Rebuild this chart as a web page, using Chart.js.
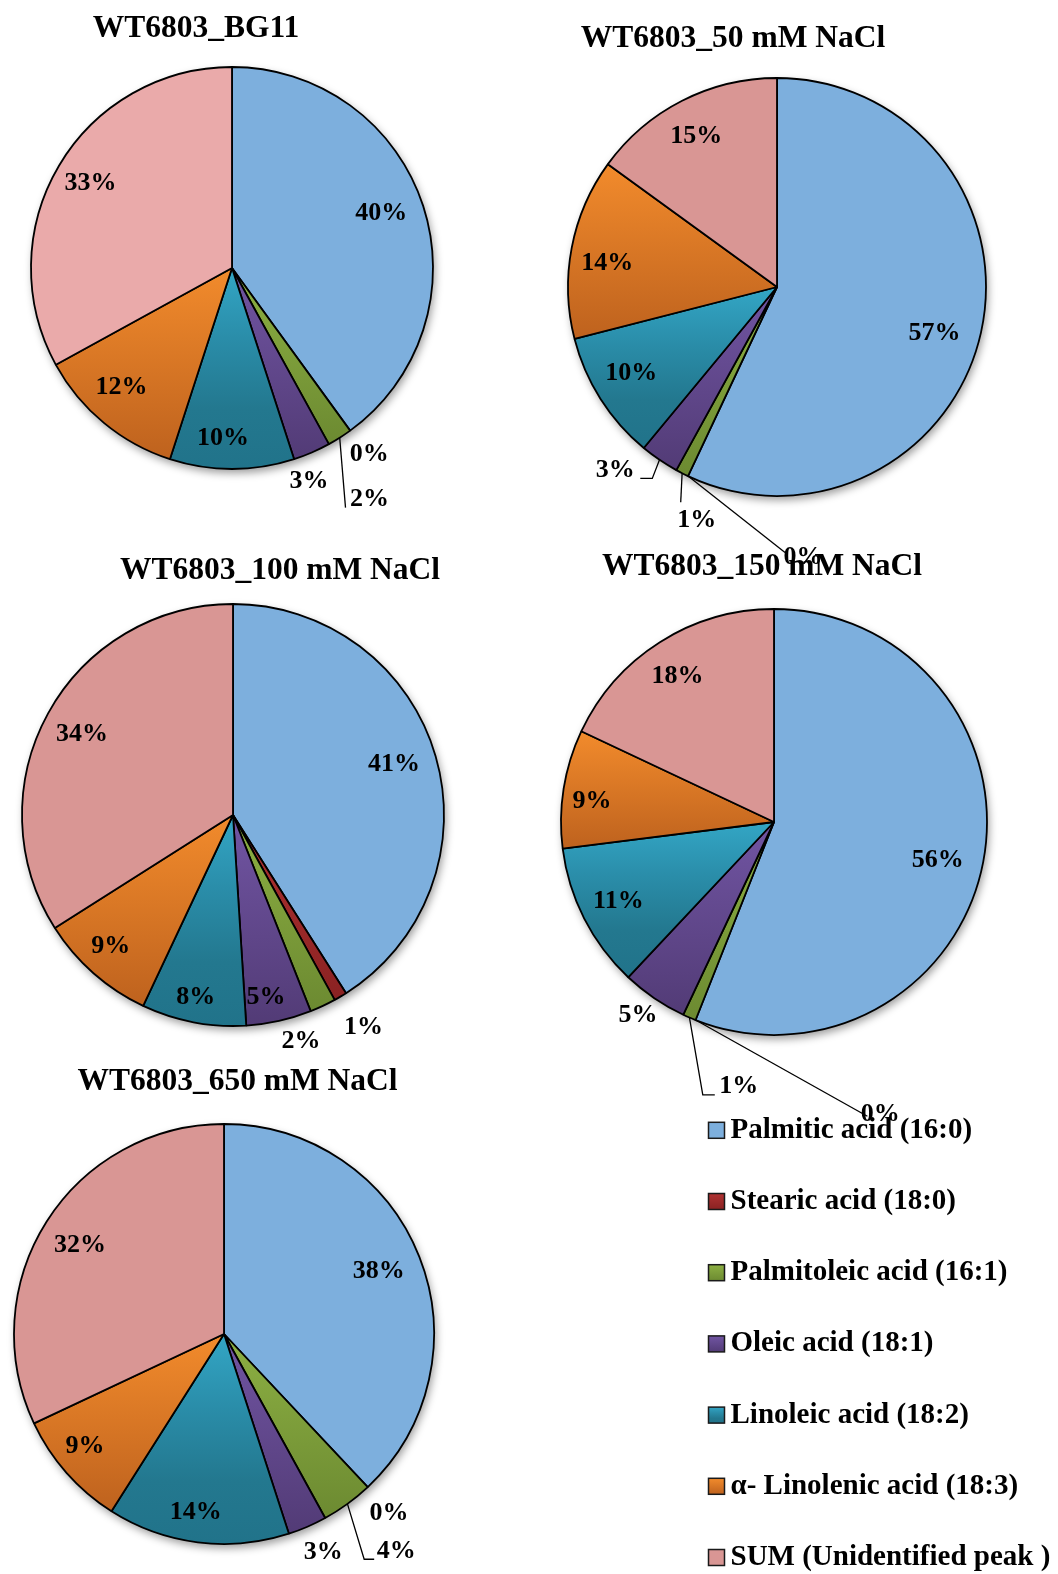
<!DOCTYPE html>
<html>
<head>
<meta charset="utf-8">
<title>WT6803 fatty acid composition</title>
<script src="https://cdn.jsdelivr.net/npm/chart.js@4.4.1/dist/chart.umd.min.js"></script>
<style>
  html, body { margin: 0; padding: 0; background: #fff; overflow: hidden; }
  #page { position: relative; width: 1058px; height: 1574px; }
  #page canvas { position: absolute; left: 0; top: 0; }
</style>
</head>
<body>
<div id="page"></div>
<script>
// fatty acid groups, same order (clockwise from 12 o'clock) in every pie
const categories = [
  'Palmitic acid (16:0)',
  'Stearic acid (18:0)',
  'Palmitoleic acid (16:1)',
  'Oleic acid (18:1)',
  'Linoleic acid (18:2)',
  'α- Linolenic acid (18:3)',
  'SUM (Unidentified peak )'
];
const titles = ['WT6803_BG11', 'WT6803_50 mM NaCl', 'WT6803_100 mM NaCl', 'WT6803_150 mM NaCl', 'WT6803_650 mM NaCl'];

// percent of total fatty acids
const bg11    = [40, 0, 2, 3, 10, 12, 33];
const nacl50  = [57, 0, 1, 3, 10, 14, 15];
const nacl100 = [41, 1, 2, 5, 8, 9, 34];
const nacl150 = [56, 0, 1, 5, 11, 9, 18];
const nacl650 = [38, 0, 4, 3, 14, 9, 32];

const PAGE_W = 1058, PAGE_H = 1574;
const FONT = '"Liberation Serif", "Times New Roman", serif';

// slice fills, top -> bottom of each slice; [colour, offset] pairs where the ramp is uneven
const fills = [
  ['#7DAFDD', '#7DAFDD'],
  ['#B03232', '#8A2222'],
  ['#8DB043', '#6C8A31'],
  ['#7155A3', '#523B76'],
  [['#33A6C5', 0], ['#2A8DA9', 0.35], ['#23788F', 0.7], ['#21738A', 1]],
  ['#F28B2C', '#BE621E'],
  ['#D99694', '#D99694']
];

// where each percentage sits: k = distance in radii along the slice middle,
// da = angle nudge in degrees, lead = end of leader line relative to the text,
// bend = horizontal run of the leader before it reaches the text
const pies = [
  { title: titles[0], values: bg11, cx: 232, cy: 268, r: 201, tx: 196, ty: 28.5, pink: '#EAAAAA',
    spots: [{k: .79, da: -2}, {k: 1.15, da: -.4}, {k: 1.34, da: 1.7, lead: [-24, 8]},
            {k: 1.13, da: 3.6}, {k: .85, da: 3}, {k: .81, da: 3.2}, {k: .82, da: .3}] },
  { title: titles[1], values: nacl50, cx: 777, cy: 287, r: 209, tx: 733, ty: 38.5,
    spots: [{k: .785, da: 3.7}, {k: 1.3, da: -30.7, lead: [-18, -5]}, {k: 1.18, da: -8, lead: [-16, -18]},
            {k: 1.17, da: 7.2, lead: [25, 8], bend: 12}, {k: .81, da: 1.9}, {k: .82, da: -2.8}, {k: .82, da: -1.1}] },
  { title: titles[2], values: nacl100, cx: 233, cy: 815, r: 211, tx: 280, ty: 571,
    spots: [{k: .8, da: -1.4}, {k: 1.18, da: -1}, {k: 1.12, da: 8.5}, {k: .876, da: 2.3},
            {k: .88, da: .8}, {k: .85, da: 1.6}, {k: .81, da: -.8}] },
  { title: titles[3], values: nacl150, cx: 774, cy: 822, r: 213, tx: 762, ty: 567,
    spots: [{k: .79, da: 2.5}, {k: 1.46, da: -41.6, lead: [-13, 2]}, {k: 1.25, da: -15.8, lead: [-24, 9], bend: -12},
            {k: 1.11, da: .9}, {k: .82, da: 0}, {k: .86, da: -2.4}, {k: .82, da: -1.1}] },
  { title: titles[4], values: nacl650, cx: 224, cy: 1334, r: 210, tx: 237.5, ty: 1082,
    spots: [{k: .795, da: -.5}, {k: 1.16, da: .6}, {k: 1.32, da: -2.4, lead: [-22, 8], bend: -10},
            {k: 1.14, da: -1.1}, {k: .86, da: 1.8}, {k: .85, da: 2.6}, {k: .806, da: -.7}], legend: true }
];

function addStops(g, stops) {
  stops.forEach((c, j) => {
    if (Array.isArray(c)) g.addColorStop(c[1], c[0]);
    else g.addColorStop(j / (stops.length - 1), c);
  });
  return g;
}

function firstColor(stops) {
  return Array.isArray(stops[0]) ? stops[0][0] : stops[0];
}

// vertical gradient spanning each slice's own height
function sliceFill(p) {
  return (ctx) => {
    const i = ctx.dataIndex;
    const area = ctx.chart.chartArea;
    const stops = (i === 6 && p.pink) ? [p.pink, p.pink] : fills[i === undefined ? 0 : i];
    if (i === undefined || !area) return firstColor(stops);
    const vals = p.values;
    const total = vals.reduce((s, v) => s + v, 0);
    let before = 0;
    for (let j = 0; j < i; j++) before += vals[j];
    const a0 = -Math.PI / 2 + before / total * Math.PI * 2;
    const a1 = a0 + vals[i] / total * Math.PI * 2;
    if (a1 <= a0) return firstColor(stops);
    const cy = (area.top + area.bottom) / 2;
    const ys = [cy, cy + p.r * Math.sin(a0), cy + p.r * Math.sin(a1)];
    [-Math.PI / 2, Math.PI / 2, Math.PI * 1.5].forEach(t => {
      if (t > a0 && t < a1) ys.push(cy + p.r * Math.sin(t));
    });
    const g = ctx.chart.ctx.createLinearGradient(0, Math.min(...ys), 0, Math.max(...ys));
    return addStops(g, stops);
  };
}

// drop shadow under the pie, percentage labels with leader lines, title
const pieDecor = {
  id: 'pieDecor',
  beforeDatasetsDraw(chart) {
    const arc = chart.getDatasetMeta(0).data[0];
    const ctx = chart.ctx;
    ctx.save();
    ctx.shadowColor = 'rgba(0,0,0,0.4)';
    ctx.shadowBlur = 8;
    ctx.shadowOffsetX = 2;
    ctx.shadowOffsetY = 4;
    ctx.fillStyle = '#fff';
    ctx.beginPath();
    ctx.arc(arc.x, arc.y, arc.outerRadius, 0, Math.PI * 2);
    ctx.fill();
    ctx.restore();
  },
  afterDatasetsDraw(chart, args, opts) {
    const ctx = chart.ctx;
    const values = chart.data.datasets[0].data;
    ctx.save();
    ctx.font = 'bold 26px ' + FONT;
    ctx.fillStyle = '#000';
    ctx.strokeStyle = '#000';
    ctx.lineWidth = 1.3;
    ctx.textAlign = 'center';
    ctx.textBaseline = 'middle';
    chart.getDatasetMeta(0).data.forEach((arc, i) => {
      const s = opts.spots[i];
      const mid = (arc.startAngle + arc.endAngle) / 2;
      const ang = mid + (s.da || 0) * Math.PI / 180;
      const x = arc.x + Math.cos(ang) * arc.outerRadius * s.k;
      const y = arc.y + Math.sin(ang) * arc.outerRadius * s.k;
      if (s.lead) {
        const ex = x + s.lead[0], ey = y + s.lead[1];
        ctx.beginPath();
        ctx.moveTo(arc.x + Math.cos(mid) * arc.outerRadius, arc.y + Math.sin(mid) * arc.outerRadius);
        if (s.bend) ctx.lineTo(ex + s.bend, ey);
        ctx.lineTo(ex, ey);
        ctx.stroke();
      }
      ctx.fillText(values[i] + '%', x, y);
    });
    ctx.font = 'bold 31.5px ' + FONT;
    ctx.fillText(opts.title, opts.tx, opts.ty);
    ctx.restore();
  }
};

// legend column at the lower right
const fattyLegend = {
  id: 'fattyLegend',
  afterDraw(chart, args, opts) {
    if (!opts.show) return;
    const ctx = chart.ctx;
    ctx.save();
    ctx.font = 'bold 29px ' + FONT;
    ctx.textBaseline = 'middle';
    ctx.textAlign = 'left';
    categories.forEach((name, i) => {
      const cy = opts.y0 + i * opts.step;
      const top = cy - opts.box / 2;
      ctx.fillStyle = addStops(ctx.createLinearGradient(0, top, 0, top + opts.box), fills[i]);
      ctx.fillRect(opts.x, top, opts.box, opts.box);
      ctx.strokeStyle = '#1a1a1a';
      ctx.lineWidth = 1.5;
      ctx.strokeRect(opts.x, top, opts.box, opts.box);
      ctx.fillStyle = '#000';
      ctx.fillText(name, opts.x + opts.box + 6, cy);
    });
    ctx.restore();
  }
};

const page = document.getElementById('page');
pies.forEach(p => {
  const canvas = document.createElement('canvas');
  canvas.width = PAGE_W;
  canvas.height = PAGE_H;
  page.appendChild(canvas);
  const room = p.r + 4;
  new Chart(canvas, {
    type: 'pie',
    data: {
      labels: categories,
      datasets: [{
        data: p.values,
        backgroundColor: sliceFill(p),
        borderColor: '#000',
        borderWidth: 1.8
      }]
    },
    options: {
      responsive: false,
      animation: false,
      events: [],
      radius: p.r,
      layout: {
        padding: {
          left: p.cx - room,
          right: PAGE_W - p.cx - room,
          top: p.cy - room,
          bottom: PAGE_H - p.cy - room
        }
      },
      plugins: {
        legend: { display: false },
        tooltip: { enabled: false },
        pieDecor: { spots: p.spots, title: p.title, tx: p.tx, ty: p.ty },
        fattyLegend: { show: !!p.legend, x: 708.5, y0: 1130.3, step: 71.2, box: 16 }
      }
    },
    plugins: [pieDecor, fattyLegend]
  });
});
</script>
</body>
</html>
